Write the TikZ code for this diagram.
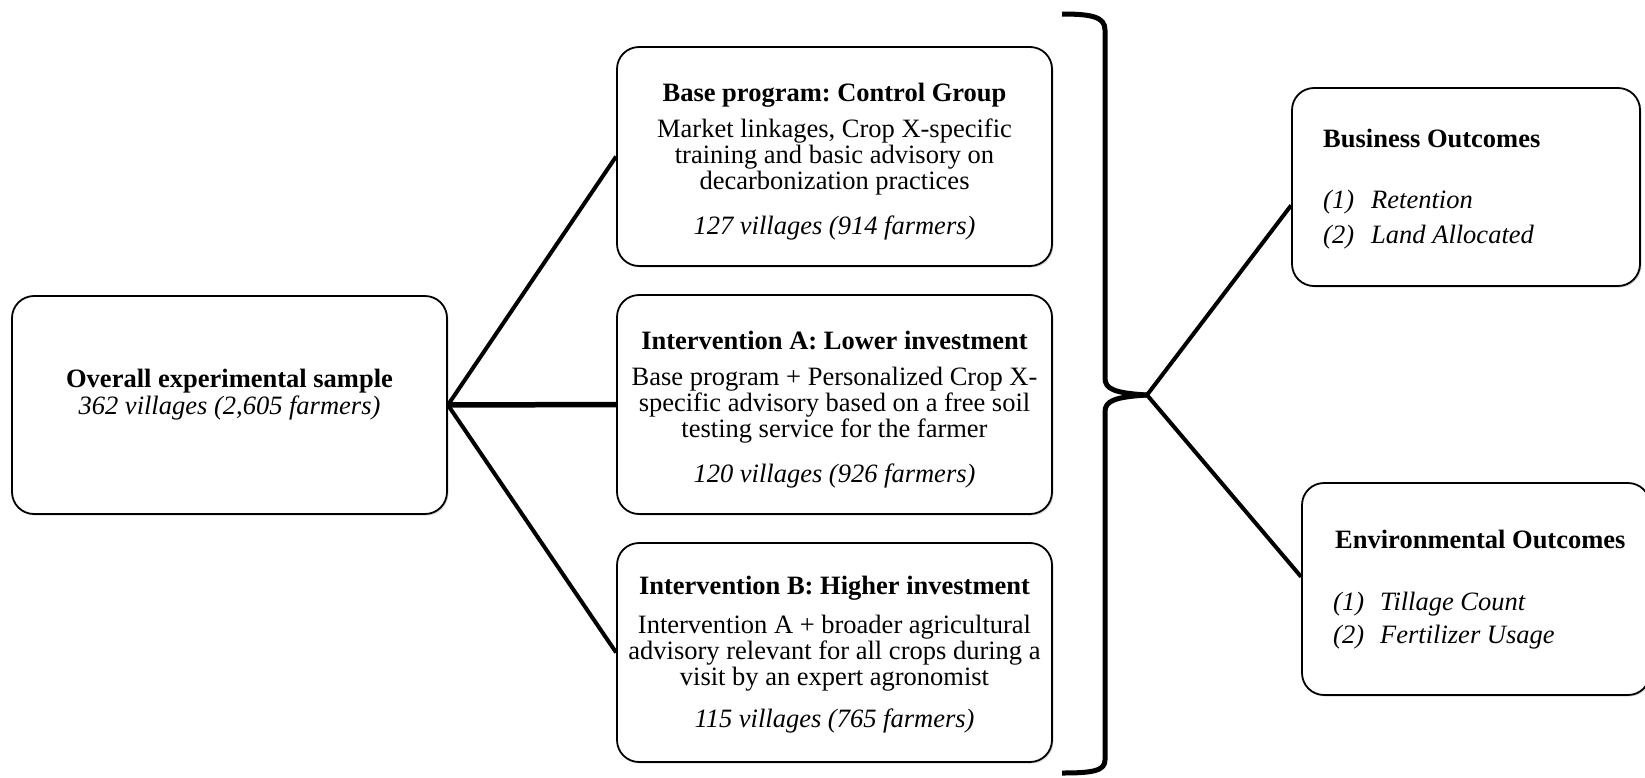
\documentclass[tikz,border=0pt]{standalone}
\usepackage{fontspec}
\setmainfont{Liberation Serif}
\usetikzlibrary{shadows}
\frenchspacing
\begin{document}
\begin{tikzpicture}[x=1pt,y=-1pt,
  box/.style={draw=black, line width=1.8pt, rounded corners=22pt, fill=white, inner sep=0pt,
    drop shadow={shadow xshift=1.5pt, shadow yshift=-1.5pt, opacity=0.3}},
  txt/.style={inner sep=0pt, align=center, font=\fontsize{26.5}{26.3}\selectfont},
  ltxt/.style={inner sep=0pt, align=left, font=\fontsize{26.5}{26.3}\selectfont},
  link/.style={line width=4pt},
  bracestyle/.style={line width=5pt, line join=round}]
\useasboundingbox (0,0) rectangle (1645,777);
\fill[white] (0,0) rectangle (1645,777);

% boxes
\node[box, minimum width=435pt, minimum height=218pt] (ov) at (229.5,405) {};
\node[box, minimum width=435pt, minimum height=219pt] (base) at (834.5,156.5) {};
\node[box, minimum width=435pt, minimum height=219pt] (inta) at (834.5,404.5) {};
\node[box, minimum width=435pt, minimum height=219pt] (intb) at (834.5,652.5) {};
\node[box, minimum width=348pt, minimum height=198pt] (bus) at (1466,187) {};
\node[box, minimum width=348pt, minimum height=212pt] (env) at (1476,589) {};

% texts (base anchor = baseline of last line)
\node[txt, anchor=base] (ovt) at (229.5,414) {\textbf{Overall experimental sample}\\[0.7pt] \textit{362 villages (2,605 farmers)}};
\node[txt, anchor=base] (baset) at (834.5,234) {\textbf{Base program: Control Group}\\[9pt] Market linkages, Crop X-specific\\ training and basic advisory on\\ decarbonization practices\\[18pt] \textit{127 villages (914 farmers)}};
\node[txt, anchor=base] (intat) at (834.5,482) {\textbf{Intervention A: Lower investment}\\[9pt] Base program + Personalized Crop X-\\ specific advisory based on a free soil\\ testing service for the farmer\\[18pt] \textit{120 villages (926 farmers)}};
\node[txt, anchor=base] (intbt) at (834.5,727) {\textbf{Intervention B: Higher investment}\\[12pt] Intervention A + broader agricultural\\ advisory relevant for all crops during a\\ visit by an expert agronomist\\[15pt] \textit{115 villages (765 farmers)}};

\node[ltxt, anchor=base west] (bust) at (1323,147) {\textbf{Business Outcomes}};
\node[ltxt, anchor=base west] (busl) at (1323,243) {\textit{\makebox[48pt][l]{(1)}Retention}\\[8.7pt] \textit{\makebox[48pt][l]{(2)}Land Allocated}};
\node[ltxt, anchor=base west] (envt) at (1335,548) {\textbf{Environmental Outcomes}};
\node[ltxt, anchor=base west] (envl) at (1333,643) {\textit{\makebox[47pt][l]{(1)}Tillage Count}\\[6.7pt] \textit{\makebox[47pt][l]{(2)}Fertilizer Usage}};

% left connectors
\draw[link] (ov.east) -- (base.west);
\draw[line width=5.5pt] (ov.east) -- (inta.west);
\draw[link] (ov.east) -- (intb.west);

% brace
\coordinate (tip) at (1147,395);
\draw[bracestyle] (1062,14) .. controls (1092,14) and (1105,17) .. (1105,30) -- (1105,378) .. controls (1105,389) and (1114,393) .. (tip);
\draw[bracestyle] (tip) .. controls (1114,397) and (1105,401) .. (1105,412) -- (1105,760) .. controls (1105,771) and (1092,773) .. (1062,773);

% right connectors
\draw[link] (tip) -- (bus.186);
\draw[link] (tip) -- (env.176);
\end{tikzpicture}
\end{document}
